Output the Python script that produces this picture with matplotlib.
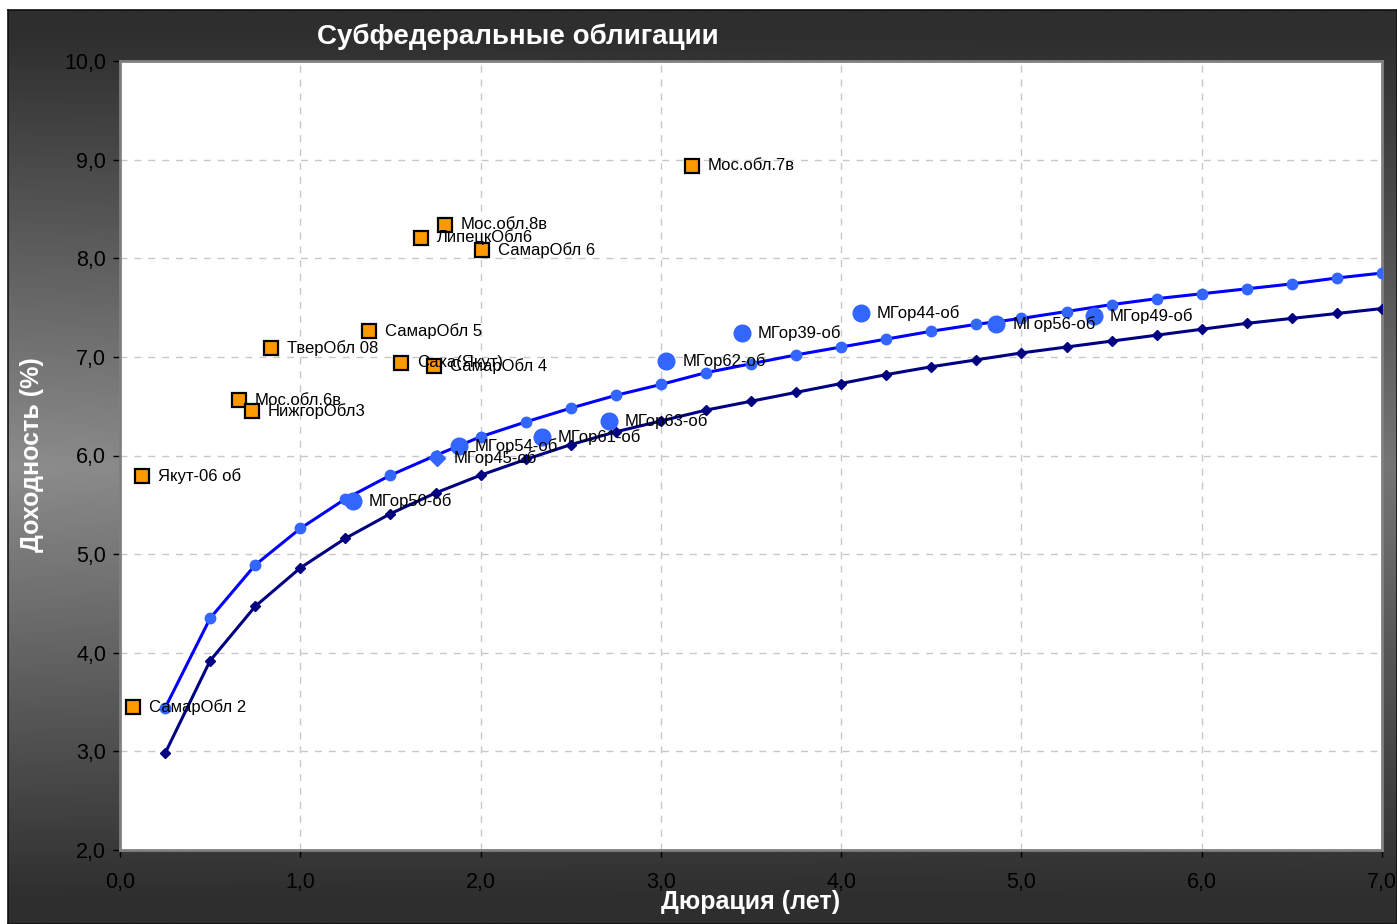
import numpy as np
import matplotlib
matplotlib.use("Agg")
import matplotlib.pyplot as plt
from matplotlib.ticker import FuncFormatter
from matplotlib.colors import LinearSegmentedColormap

plt.rcParams['font.family'] = ['Liberation Sans', 'DejaVu Sans']

# ---------------- data ----------------
curve_x = [0.25, 0.5, 0.75, 1.0, 1.25, 1.5, 1.75, 2.0, 2.25, 2.5, 2.75, 3.0, 3.25, 3.5,
           3.75, 4.0, 4.25, 4.5, 4.75, 5.0, 5.25, 5.5, 5.75, 6.0, 6.25, 6.5, 6.75, 7.0]
upper_y = [3.44, 4.35, 4.89, 5.26, 5.56, 5.80, 6.00, 6.19, 6.34, 6.48, 6.61, 6.72, 6.84, 6.93,
           7.02, 7.10, 7.18, 7.26, 7.33, 7.39, 7.46, 7.53, 7.59, 7.64, 7.69, 7.74, 7.80, 7.85]
lower_y = [2.98, 3.92, 4.47, 4.86, 5.16, 5.41, 5.62, 5.80, 5.96, 6.11, 6.24, 6.35, 6.46, 6.55,
           6.64, 6.73, 6.82, 6.90, 6.97, 7.04, 7.10, 7.16, 7.22, 7.28, 7.34, 7.39, 7.44, 7.49]

region_names = ['Якут-06 об', 'СамарОбл 2', 'Мос.обл.6в', 'НижгорОбл3', 'ТверОбл 08',
                'СамарОбл 5', 'Саха(Якут)', 'СамарОбл 4', 'ЛипецкОбл6', 'Мос.обл.8в',
                'СамарОбл 6', 'Мос.обл.7в']
region_x = [0.12, 0.07, 0.66, 0.73, 0.84, 1.38, 1.56, 1.74, 1.67, 1.80, 2.01, 3.17]
region_y = [5.79, 3.45, 6.56, 6.45, 7.09, 7.26, 6.94, 6.91, 8.21, 8.34, 8.08, 8.94]

mgor_names = ['МГор50-об', 'МГор54-об', 'МГор61-об', 'МГор63-об', 'МГор62-об',
              'МГор39-об', 'МГор44-об', 'МГор56-об', 'МГор49-об']
mgor_x = [1.29, 1.88, 2.34, 2.71, 3.03, 3.45, 4.11, 4.86, 5.40]
mgor_y = [5.54, 6.10, 6.19, 6.35, 6.96, 7.24, 7.44, 7.33, 7.41]

mgor45_name = ['МГор45-об']
mgor45_x = [1.76]
mgor45_y = [5.97]

x_ticks = [0, 1, 2, 3, 4, 5, 6, 7]
y_ticks = [2, 3, 4, 5, 6, 7, 8, 9, 10]

W, H = 1397, 924
fig = plt.figure(figsize=(W / 100, H / 100), dpi=100)
fig.patch.set_facecolor('white')

# background frame with gradient
bg = fig.add_axes([8 / W, 0, 1 - 8 / W, 1 - 10 / H], zorder=-10)
yy = np.linspace(0, 1, 400)[:, None]
xx = np.linspace(0, 1, 400)[None, :]
grad = np.clip(1 - np.abs(yy - 0.50) * 2.1, 0, 1) * (1 - 0.25 * xx)
bg.imshow(grad, aspect='auto', cmap=LinearSegmentedColormap.from_list(
    'g', ['#2e2e2e', '#8c8c8c']), extent=[0, 1, 0, 1], vmin=0, vmax=1)
bg.set_xlim(0, 1)
bg.set_ylim(0, 1)
bg.set_xticks([])
bg.set_yticks([])
for s in bg.spines.values():
    s.set_color('#111111')
    s.set_linewidth(1.2)

# main axes
L, R, T, B = 120, 1382, 61, 850
ax = fig.add_axes([L / W, 1 - B / H, (R - L) / W, (B - T) / H])
ax.set_facecolor('white')
ax.set_xlim(0, 7)
ax.set_ylim(2, 10)
ax.set_xticks(x_ticks)
ax.set_yticks(y_ticks)
fmt = FuncFormatter(lambda v, p: f'{v:.1f}'.replace('.', ','))
ax.xaxis.set_major_formatter(fmt)
ax.yaxis.set_major_formatter(fmt)
ax.tick_params(axis='both', labelsize=15.5, colors='black', direction='out', length=5, width=1)
ax.tick_params(axis='x', pad=11)
ax.tick_params(axis='y', pad=5)
ax.grid(True, color='#c8c8c8', linestyle=(0, (5, 5)), linewidth=1)
ax.set_axisbelow(True)
for s in ax.spines.values():
    s.set_color('#808080')
    s.set_linewidth(2)

# curves
ax.plot(curve_x, upper_y, color='#0000ff', linewidth=2.2, marker='o', markersize=7.5,
        markerfacecolor='#3366ff', markeredgecolor='#3366ff', zorder=3)
ax.plot(curve_x, lower_y, color='#000080', linewidth=2.2, marker='D', markersize=5,
        markerfacecolor='#000080', markeredgecolor='#000080', zorder=3)

# regional bonds
ax.plot(region_x, region_y, linestyle='none', marker='s', markersize=9.5,
        markerfacecolor='#ff9900', markeredgecolor='black', markeredgewidth=1.6, zorder=4)
# Moscow bonds
ax.plot(mgor_x, mgor_y, linestyle='none', marker='o', markersize=12,
        markerfacecolor='#3366ff', markeredgecolor='#3366ff', zorder=4)
ax.plot(mgor45_x, mgor45_y, linestyle='none', marker='D', markersize=8,
        markerfacecolor='#3366ff', markeredgecolor='#3366ff', zorder=4)

for names, xs, ys in [(region_names, region_x, region_y),
                      (mgor_names, mgor_x, mgor_y),
                      (mgor45_name, mgor45_x, mgor45_y)]:
    for n, xv, yv in zip(names, xs, ys):
        ax.annotate(n, (xv, yv), xytext=(11.5, 0), textcoords='offset points',
                    va='center', ha='left', fontsize=12, color='black', zorder=6)

fig.text(518 / W, 1 - 37 / H, 'Субфедеральные облигации', ha='center', va='center',
         fontsize=20, fontweight='bold', color='white')
fig.text((L + R) / 2 / W, 1 - 902 / H, 'Дюрация (лет)', ha='center', va='center',
         fontsize=18, fontweight='bold', color='white')
fig.text(32 / W, 1 - 455 / H, 'Доходность (%)', ha='center', va='center', rotation=90,
         fontsize=18, fontweight='bold', color='white')

fig.savefig('out.png', dpi=100, facecolor=fig.get_facecolor())
